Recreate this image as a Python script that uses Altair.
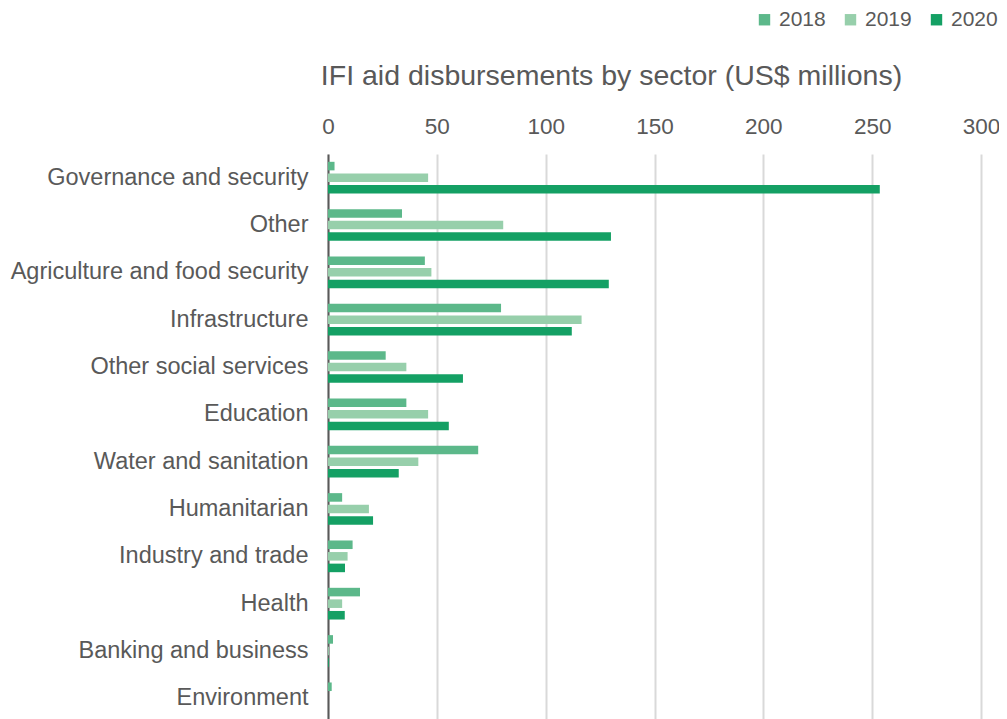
import altair as alt
import pandas as pd

sectors = [
    "Governance and security", "Other", "Agriculture and food security",
    "Infrastructure", "Other social services", "Education",
    "Water and sanitation", "Humanitarian", "Industry and trade",
    "Health", "Banking and business", "Environment",
]
years = ["2018", "2019", "2020"]
v2018 = [3, 34, 44.5, 79.5, 26.5, 36, 69, 6.5, 11.3, 14.7, 2.3, 1.7]
v2019 = [46, 80.5, 47.5, 116.5, 36, 46, 41.5, 18.8, 9, 6.5, 0.4, 0]
v2020 = [253.5, 130, 129, 112, 62, 55.5, 32.5, 20.7, 7.8, 7.7, 0.4, 0]
colors = ["#5cb88a", "#97cfab", "#14a064"]

rows = []
for i, s in enumerate(sectors):
    for y, vals in zip(years, [v2018, v2019, v2020]):
        rows.append({"sector": s, "year": y, "value": vals[i]})
df = pd.DataFrame(rows)

FONT = "Liberation Sans"
GREY = "#595959"

chart = alt.Chart(df).mark_bar().encode(
    x=alt.X(
        "value:Q",
        scale=alt.Scale(domain=[0, 300], nice=False),
        axis=alt.Axis(
            orient="top", values=[0, 50, 100, 150, 200, 250, 300],
            domain=False, ticks=False, labelPadding=16, labelFlush=False,
            labelFontSize=22.5, labelColor=GREY, labelFont=FONT,
            grid=True, gridColor="#d9d9d9", gridWidth=2,
            title="IFI aid disbursements by sector (US$ millions)",
            titleFontSize=28.5, titleFont=FONT, titleColor=GREY,
            titleFontWeight="normal", titleX=283, titleY=-70,
            titleAnchor="middle", titleAlign="center", titleBaseline="alphabetic",
        ),
    ),
    y=alt.Y(
        "sector:N", sort=sectors,
        scale=alt.Scale(paddingInner=0.33, paddingOuter=0.165),
        axis=alt.Axis(
            title=None, ticks=False, labelPadding=20,
            labelFontSize=23.5, labelColor=GREY, labelFont=FONT,
            domain=True, domainColor=GREY, domainWidth=2, grid=False,
            labelLimit=400,
        ),
    ),
    yOffset=alt.YOffset("year:N", sort=years,
                        scale=alt.Scale(paddingInner=0.26, paddingOuter=0)),
    color=alt.Color(
        "year:N", sort=years,
        scale=alt.Scale(domain=years, range=colors),
        legend=alt.Legend(
            orient="none", direction="horizontal", legendX=426, legendY=-145,
            title=None, symbolType="square", symbolSize=130,
            symbolStrokeWidth=0, labelFontSize=21, labelFont=FONT,
            labelColor=GREY, columnPadding=14, labelOffset=4, padding=0,
        ),
    ),
).properties(
    width=653, height=568,
    autosize=alt.AutoSizeParams(type="none"),
    padding={"left": 320, "top": 146, "right": 18, "bottom": 5},
).configure_view(stroke=None)

chart.save("out.html", embed_options={"renderer": "svg", "actions": False})
